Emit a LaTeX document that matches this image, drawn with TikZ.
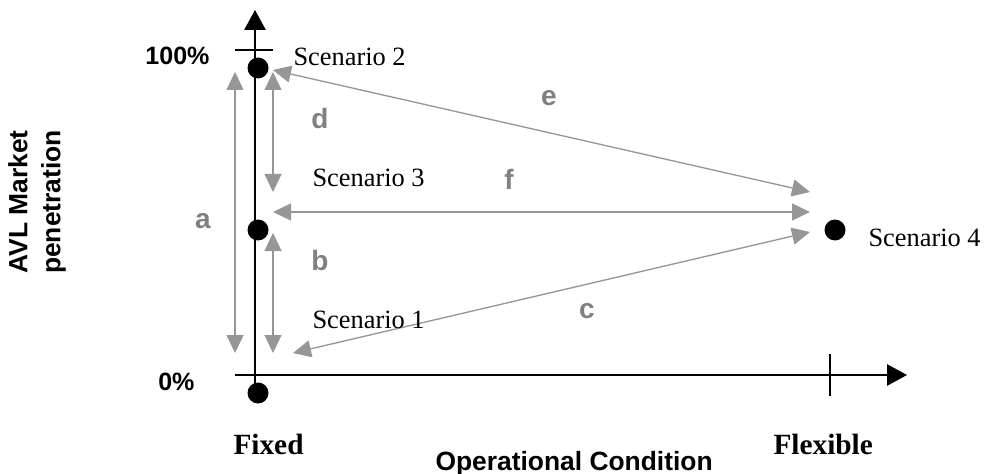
\documentclass[tikz,border=0pt]{standalone}
\usepackage{fontspec}
\setmainfont{Liberation Serif}
\setsansfont{Liberation Sans}
\usetikzlibrary{arrows.meta}

\definecolor{arrowgray}{RGB}{150,150,150}
\definecolor{labelgray}{RGB}{128,128,128}

\tikzset{every picture/.style={line width=0.75pt}}
\tikzset{
  axis/.style={line width=1.3pt, -{Triangle[length=15pt,width=16pt]}},
  axistick/.style={line width=1.3pt},
  spread/.style={draw=arrowgray, line width=1pt, {Triangle[length=13.5pt,width=12.75pt]}-{Triangle[length=13.5pt,width=12.75pt]}},
  dot/.style={circle, fill=black, inner sep=0pt, minimum size=15.75pt},
  scen/.style={font=\fontsize{19.8}{24}\selectfont, inner sep=0pt},
  pct/.style={font=\sffamily\bfseries\fontsize{18.8}{22}\selectfont, inner sep=0pt},
  ends/.style={font=\bfseries\fontsize{22}{26}\selectfont, inner sep=0pt},
  gaplabel/.style={font=\sffamily\bfseries\fontsize{21}{25}\selectfont, text=labelgray, inner sep=0pt},
  axtitle/.style={font=\sffamily\bfseries\fontsize{19.8}{24.75}\selectfont, inner sep=0pt, align=center},
}

\begin{document}
\begin{tikzpicture}[x=0.75pt,y=0.75pt,yscale=-1,xscale=1]
\useasboundingbox (0,0) rectangle (985,474);

%Axes
\coordinate (yfoot) at (255,393);
\coordinate (ytop) at (255,10);
\coordinate (xstart) at (235,375);
\coordinate (xend) at (907,375);
\draw[axis] (yfoot) -- (ytop);
\draw[axis] (xstart) -- (xend);
%Ticks
\coordinate (tl) at (235,50);
\coordinate (tr) at (273,50);
\coordinate (tt) at (830,354);
\coordinate (tb) at (830,396);
\draw[axistick] (tl) -- (tr);
\draw[axistick] (tt) -- (tb);

%Scenario dots
\node[dot] (s2) at (258,68) {};
\node[dot] (s3) at (258,230) {};
\node[dot] (s1) at (258,393) {};
\node[dot] (s4) at (835,230) {};

%Arrow ends
\coordinate (a0) at (235,72);
\coordinate (a1) at (235,353);
\coordinate (d0) at (273,72);
\coordinate (d1) at (273,192);
\coordinate (b0) at (273,233);
\coordinate (b1) at (273,353);
\coordinate (e0) at (273,70);
\coordinate (e1) at (810,192);
\coordinate (f0) at (273,212);
\coordinate (f1) at (810,212);
\coordinate (c0) at (293,353);
\coordinate (c1) at (810,232);

%Gray arrows
\draw[spread] (a0) -- (a1);
\draw[spread] (d0) -- (d1);
\draw[spread] (b0) -- (b1);
\draw[spread] (e0) -- (e1);
\draw[spread] (f0) -- (f1);
\draw[spread] (c0) -- (c1);

% Text Node
\node[gaplabel] (la) at (203,221) {a};
\node[gaplabel] (lb) at (320,260) {b};
\node[gaplabel] (lc) at (587,311) {c};
\node[gaplabel] (ld) at (320,118) {d};
\node[gaplabel] (le) at (549,98) {e};
\node[gaplabel] (lf) at (509,179) {f};

% Text Node
\node[scen, anchor=base west] (n2) at (293,66) {Scenario 2};
\node[scen, anchor=base west] (n3) at (312,186) {Scenario 3};
\node[scen, anchor=base west] (n1) at (312,328) {Scenario 1};
\node[scen, anchor=base west] (n4) at (868,246) {Scenario 4};

% Text Node
\node[pct, anchor=base east] (full) at (210,65) {100\%};
\node[pct, anchor=base east] (none) at (195,390) {0\%};
\node[ends, anchor=base west] (fixed) at (233,454) {Fixed};
\node[ends, anchor=base west] (flex) at (773,454) {Flexible};
\node[axtitle, anchor=base west] (xtitle) at (435,470) {Operational Condition};
\node[axtitle, rotate=90] (ytitle) at (37,202) {AVL Market\\penetration};

\end{tikzpicture}
\end{document}
